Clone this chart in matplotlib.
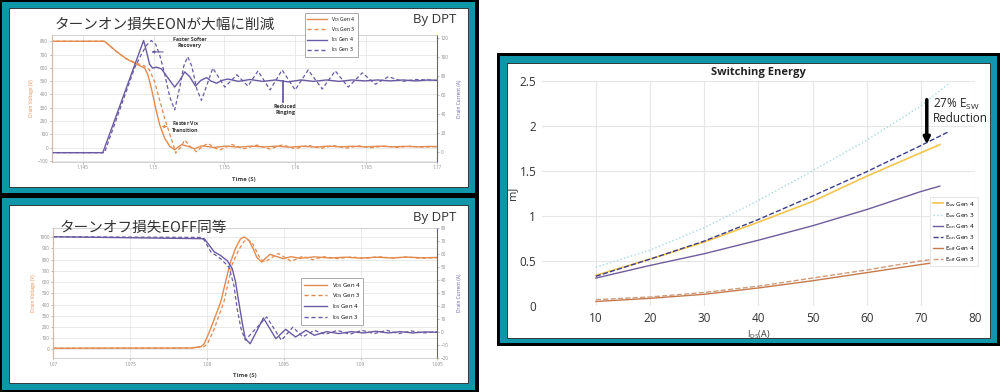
import matplotlib
matplotlib.use("Agg")
import matplotlib.pyplot as plt
from matplotlib.patches import Rectangle
from matplotlib.lines import Line2D
from matplotlib.ticker import FixedLocator, FuncFormatter

W, H = 1000, 392

# ---- turn-on waveform (top left) ----
on_t_v4 = [1.1427, 1.14654, 1.14736, 1.14807, 1.14878, 1.14937, 1.14960, 1.14984, 1.15015,
           1.15043, 1.15078, 1.15114, 1.15149, 1.15197, 1.15243, 1.15290, 1.15340, 1.15425,
           1.1551, 1.1560, 1.1569, 1.1578, 1.1587, 1.1596, 1.1605, 1.1614, 1.1623, 1.1632,
           1.1641, 1.1650, 1.1659, 1.1668, 1.1677, 1.1686, 1.1695, 1.1701]
on_v_g4 = [800, 800, 725, 669, 629, 599, 549, 449, 298,
           173, 73, 11, -15, 23, 11, -8, 14, 2,
           12, 4, 12, 6, 12, 4, 11, 5, 12, 7,
           11, 6, 12, 7, 10, 7, 10, 8]
on_t_v3 = [1.1427, 1.14654, 1.14736, 1.14807, 1.14878, 1.14937, 1.14972, 1.15008, 1.15043,
           1.15078, 1.15114, 1.15142, 1.15156, 1.15192, 1.15220, 1.15255, 1.15303, 1.15340,
           1.15383, 1.15425, 1.15468, 1.15553, 1.1564, 1.1573, 1.1582, 1.1591, 1.1600, 1.1609,
           1.1618, 1.1627, 1.1636, 1.1645, 1.1654, 1.1663, 1.1672, 1.1681, 1.1690, 1.1701]
on_v_g3 = [800, 800, 725, 669, 636, 614, 584, 494, 358,
           223, 103, 13, -40, 5, 58, 13, -30, 5,
           33, 2, -17, 24, -8, 20, -10, 22, -8, 18,
           -5, 16, -3, 14, 0, 13, 2, 12, 4, 9]
on_t_i4 = [1.1427, 1.14642, 1.14930, 1.14951, 1.14972, 1.14993, 1.15022, 1.15057, 1.15100,
           1.15149, 1.15185, 1.15220, 1.15255, 1.15296, 1.15333, 1.15374, 1.15404, 1.15444,
           1.15482, 1.15524, 1.1560, 1.1568, 1.1577, 1.1586, 1.1595, 1.1604, 1.1613, 1.1622,
           1.1631, 1.1640, 1.1649, 1.1658, 1.1667, 1.1676, 1.1685, 1.1694, 1.1701]
on_i_g4 = [-1, -1, 117, 105, 92, 88, 89, 87, 78,
           68, 75, 84, 79, 69, 75, 78, 74.5, 72,
           75, 76.5, 74, 76, 74, 75.5, 73.5, 75.5, 74, 75.5,
           74, 75.5, 74.5, 75.5, 74.5, 75.5, 74.5, 75.5, 75]
on_t_i3 = [1.1427, 1.14654, 1.14866, 1.14916, 1.14951, 1.14984, 1.15015, 1.15043, 1.15078,
           1.15114, 1.15149, 1.15185, 1.15213, 1.15241, 1.15270, 1.15305, 1.15338, 1.15376,
           1.15418, 1.15503, 1.15588, 1.15666, 1.15737, 1.15822, 1.15907, 1.15999, 1.16091,
           1.16190, 1.16282, 1.16374, 1.16473, 1.16565, 1.16657, 1.16756, 1.16849, 1.1701]
on_i_g3 = [-1, -1, 88, 103, 112, 117, 113, 102, 82,
           58, 44, 68, 90, 100, 90, 66, 54, 70,
           88, 68, 81, 69, 85, 65, 86, 65, 86,
           66, 85, 68, 83, 71, 79, 74, 76, 75]
on_xticks = [1.145, 1.15, 1.155, 1.16, 1.165, 1.17]
on_vticks = [-100, 0, 100, 200, 300, 400, 500, 600, 700, 800]
on_iticks = [0, 20, 40, 60, 80, 100, 120]

# ---- turn-off waveform (bottom left) ----
off_t_v4 = [1.07, 1.07897, 1.07962, 1.07983, 1.08026, 1.08090, 1.08150, 1.08186, 1.08218,
            1.08242, 1.08272, 1.08304, 1.08325, 1.08357, 1.08410, 1.08496, 1.08549, 1.08603,
            1.0870, 1.0880, 1.0890, 1.0900, 1.0910, 1.0920, 1.0930, 1.0940, 1.0950]
off_v_g4 = [10, 12, 25, 50, 190, 422, 764, 900, 985,
            1003, 975, 890, 820, 779, 848, 809, 827, 812,
            825, 815, 822, 814, 822, 816, 823, 817, 820]
off_t_v3 = [1.07, 1.07897, 1.07983, 1.08004, 1.08047, 1.08112, 1.08165, 1.08208, 1.08240,
            1.08261, 1.08293, 1.08325, 1.08346, 1.08378, 1.08464, 1.08549, 1.08624, 1.08688,
            1.0876, 1.0885, 1.0894, 1.0903, 1.0912, 1.0921, 1.0930, 1.0939, 1.0950]
off_v_g3 = [10, 10, 25, 50, 180, 430, 760, 890, 960,
            982, 955, 870, 810, 779, 855, 786, 830, 800,
            826, 810, 824, 812, 826, 814, 824, 812, 818]
off_t_i4 = [1.07, 1.07983, 1.08015, 1.08047, 1.08090, 1.08133, 1.08165, 1.08186, 1.08208,
            1.08229, 1.08250, 1.08282, 1.08368, 1.08449, 1.08513, 1.08577, 1.08645, 1.08699,
            1.0878, 1.0886, 1.0894, 1.0902, 1.0910, 1.0918, 1.0926, 1.0934, 1.0942, 1.0950]
off_i_g4 = [73.5, 72, 67, 62, 59, 55, 49, 39, 23,
            8, -5, -8.8, 11, -4.9, 2.3, -3.6, 1.5, -2.3,
            0.5, -1, 0.5, -0.5, 0.8, -0.5, 0.5, -0.5, 0.3, 0]
off_t_i3 = [1.07, 1.07962, 1.07983, 1.08026, 1.08090, 1.08144, 1.08176, 1.08197, 1.08222,
            1.08250, 1.08389, 1.08485, 1.08560, 1.08624, 1.08699, 1.0877, 1.0885, 1.0893,
            1.0901, 1.0909, 1.0917, 1.0925, 1.0933, 1.0941, 1.0950]
off_i_g3 = [73.5, 73, 70.8, 61.8, 56.6, 50, 36, 18, 2.8,
            -6, 11.8, -6.2, 4, -3.6, 1.5, -1.5, 1.5, -1.5,
            1.5, -1, 1.5, -1, 1, -0.5, 0.5]
off_xticks = [1.07, 1.075, 1.08, 1.085, 1.09, 1.095]
off_vticks = [0, 100, 200, 300, 400, 500, 600, 700, 800, 900, 1000]
off_iticks = [-20, -10, 0, 10, 20, 30, 40, 50, 60, 70, 80]

# ---- switching energy (right) ----
ids_g4 = [10, 20, 30, 40, 50, 60, 70, 73.5]
ids_g3 = [10, 20, 30, 40, 50, 60, 70, 75]
esw_g4 = [0.34, 0.52, 0.71, 0.93, 1.16, 1.44, 1.70, 1.79]
esw_g3 = [0.43, 0.62, 0.87, 1.17, 1.50, 1.84, 2.22, 2.46]
eon_g4 = [0.31, 0.45, 0.58, 0.73, 0.89, 1.07, 1.27, 1.33]
eon_g3 = [0.33, 0.52, 0.72, 0.96, 1.22, 1.49, 1.78, 1.93]
eoff_g4 = [0.05, 0.085, 0.13, 0.20, 0.28, 0.37, 0.46, 0.49]
eoff_g3 = [0.07, 0.10, 0.15, 0.22, 0.31, 0.40, 0.50, 0.54]
e_xticks = [10, 20, 30, 40, 50, 60, 70, 80]
e_yticks = [0, 0.5, 1, 1.5, 2, 2.5]

ORANGE = '#e38b4f'
PURPLE = '#6a5aa3'
TEAL = '#0f97a9'
JP = ['Noto Sans CJK JP', 'DejaVu Sans']


def rect(x0, y0, x1, y1):
    return [x0 / W, 1 - y1 / H, (x1 - x0) / W, (y1 - y0) / H]


def box(fig, x0, y0, x1, y1, color, ec='none', lw=0):
    fig.add_artist(Rectangle((x0 / W, 1 - y1 / H), (x1 - x0) / W, (y1 - y0) / H,
                             transform=fig.transFigure, facecolor=color,
                             edgecolor=ec, linewidth=lw, zorder=-5))


def fmt(v, p):
    return f'{v:g}'


def wave_axes(fig, pos, xlim, vlim, ilim, xt, vt, it):
    ax = fig.add_axes(pos)
    axr = ax.twinx()
    ax.set_xlim(*xlim)
    ax.set_ylim(*vlim)
    axr.set_ylim(*ilim)
    ax.xaxis.set_major_locator(FixedLocator(xt))
    ax.xaxis.set_major_formatter(FuncFormatter(fmt))
    ax.yaxis.set_major_locator(FixedLocator(vt))
    axr.yaxis.set_major_locator(FixedLocator(it))
    ax.grid(color='#e2e2e2', lw=0.5)
    for a in (ax, axr):
        a.tick_params(labelsize=3.3, length=1.5, width=0.4, pad=1, colors='#888')
        for s in a.spines.values():
            s.set_linewidth(0.5)
            s.set_color('#cccccc')
    ax.spines['left'].set_color(ORANGE)
    axr.spines['right'].set_color(PURPLE)
    ax.spines['left'].set_linewidth(0.8)
    axr.spines['right'].set_linewidth(0.8)
    ax.set_ylabel('Drain Voltage (V)', fontsize=3.5, color=ORANGE)
    axr.set_ylabel('Drain Current (A)', fontsize=3.5, color=PURPLE)
    ax.set_xlabel('Time (S)', fontsize=4.3, fontweight='bold', color='#444')
    ax.yaxis.set_label_coords(-0.045, 0.5)
    axr.yaxis.set_label_coords(1.052, 0.5)
    ax.xaxis.set_label_coords(0.5, -0.12)
    return ax, axr


def legend_handles():
    return [Line2D([], [], color=ORANGE, lw=1),
            Line2D([], [], color=ORANGE, lw=1, ls=(0, (3, 2))),
            Line2D([], [], color=PURPLE, lw=1),
            Line2D([], [], color=PURPLE, lw=1, ls=(0, (3, 2)))]


LEG_LABELS = ['V$_{DS}$ Gen 4', 'V$_{DS}$ Gen 3', 'I$_{DS}$ Gen 4', 'I$_{DS}$ Gen 3']


def main():
    plt.rcParams['font.family'] = ['Open Sans', 'DejaVu Sans']
    plt.rcParams['mathtext.default'] = 'regular'
    fig = plt.figure(figsize=(W / 100, H / 100), dpi=100)
    fig.patch.set_facecolor('white')

    # frames
    box(fig, 0, 0, 479, 392, 'black')
    box(fig, 1.5, 1.5, 474.5, 193, TEAL)
    box(fig, 8.5, 8, 468, 187, 'white', ec='#222', lw=0.6)
    box(fig, 1.5, 197.5, 474.5, 390, TEAL)
    box(fig, 8.5, 205, 468, 383, 'white', ec='#222', lw=0.6)
    box(fig, 497, 53, 1000, 346, 'black')
    box(fig, 499.5, 55.5, 997, 343, TEAL)
    box(fig, 507.5, 62.5, 990, 338, 'white', ec='#222', lw=0.6)

    # ---- turn-on ----
    ax1, ax1r = wave_axes(fig, rect(51.5, 35, 437, 161.7), (1.1428, 1.1700),
                          (-105, 847), (-10.5, 122.8), on_xticks, on_vticks, on_iticks)
    ax1.plot(on_t_v4, on_v_g4, color=ORANGE, lw=1)
    ax1.plot(on_t_v3, on_v_g3, color=ORANGE, lw=0.9, ls=(0, (3, 2)))
    ax1r.plot(on_t_i4, on_i_g4, color=PURPLE, lw=1)
    ax1r.plot(on_t_i3, on_i_g3, color=PURPLE, lw=0.9, ls=(0, (3, 2)))
    ax1r.text(1.15255, 115, 'Faster Softer\nRecovery', fontsize=3.8, fontweight='bold',
              color='#333', ha='center', va='center')
    ax1r.annotate('', xy=(1.14965, 105), xytext=(1.15087, 105),
                  arrowprops=dict(arrowstyle='-|>', color=PURPLE, lw=0.8, mutation_scale=4))
    ax1.text(1.15128, 163, 'Faster V$_{DS}$\nTransition', fontsize=3.8, fontweight='bold',
             color='#333', ha='left', va='center')
    ax1.annotate('', xy=(1.15036, 159), xytext=(1.15115, 159),
                 arrowprops=dict(arrowstyle='-|>', color=ORANGE, lw=0.8, mutation_scale=4))
    ax1r.plot([1.15912, 1.15912], [74.4, 52.6], color=PURPLE, lw=1.3)
    ax1r.text(1.15930, 44, 'Reduced\nRinging', fontsize=3.8, fontweight='bold',
              color='#333', ha='center', va='center')
    leg = ax1r.legend(legend_handles(), LEG_LABELS, loc='upper left',
                      bbox_to_anchor=(302 / W, 1 - 10 / H), bbox_transform=fig.transFigure,
                      fontsize=3.6, handlelength=4, labelspacing=0.25, borderpad=0.5,
                      fancybox=False, framealpha=1, edgecolor='#888')
    leg.get_frame().set_linewidth(0.5)
    fig.text(55 / W, 1 - 25 / H, 'ターンオン損失EONが大幅に削減', fontsize=10.5,
             family=JP, color='#333', va='center')
    fig.text(413 / W, 1 - 19 / H, 'By DPT', fontsize=9.5, color='#333', va='center')

    # ---- turn-off ----
    ax2, ax2r = wave_axes(fig, rect(53.3, 228.3, 437.3, 358.3), (1.07, 1.095),
                          (-80, 1080), (-20, 80), off_xticks, off_vticks, off_iticks)
    ax2.plot(off_t_v4, off_v_g4, color=ORANGE, lw=1)
    ax2.plot(off_t_v3, off_v_g3, color=ORANGE, lw=0.9, ls=(0, (3, 2)))
    ax2r.plot(off_t_i4, off_i_g4, color=PURPLE, lw=1)
    ax2r.plot(off_t_i3, off_i_g3, color=PURPLE, lw=0.9, ls=(0, (3, 2)))
    ax2.xaxis.set_label_coords(0.5, -0.115)
    leg = ax2r.legend(legend_handles(), LEG_LABELS, loc='upper left',
                      bbox_to_anchor=(298 / W, 1 - 275 / H), bbox_transform=fig.transFigure,
                      fontsize=4.2, handlelength=4, labelspacing=0.3, borderpad=0.5,
                      fancybox=False, framealpha=1, edgecolor='#888')
    leg.get_frame().set_linewidth(0.5)
    fig.text(60 / W, 1 - 228 / H, 'ターンオフ損失EOFF同等', fontsize=10.5,
             family=JP, color='#333', va='center')
    fig.text(413 / W, 1 - 218 / H, 'By DPT', fontsize=9.5, color='#333', va='center')

    # ---- switching energy ----
    ax3 = fig.add_axes(rect(541.7, 80.7, 975, 306))
    ax3.plot(ids_g4, esw_g4, color='#f3c54d', lw=1.2, label='E$_{sw}$ Gen 4')
    ax3.plot(ids_g3, esw_g3, color='#a6d9dd', lw=1.0, ls=':', label='E$_{sw}$ Gen 3')
    ax3.plot(ids_g4, eon_g4, color='#6f5c9d', lw=1.0, label='E$_{on}$ Gen 4')
    ax3.plot(ids_g3, eon_g3, color='#3c3d8c', lw=1.0, ls='--', label='E$_{on}$ Gen 3')
    ax3.plot(ids_g4, eoff_g4, color='#c47a4c', lw=1.0, label='E$_{off}$ Gen 4')
    ax3.plot(ids_g3, eoff_g3, color='#d19a7a', lw=1.0, ls='--', label='E$_{off}$ Gen 3')
    ax3.set_xlim(0, 80)
    ax3.set_ylim(0, 2.5)
    ax3.xaxis.set_major_locator(FixedLocator(e_xticks))
    ax3.yaxis.set_major_locator(FixedLocator(e_yticks))
    ax3.yaxis.set_major_formatter(FuncFormatter(fmt))
    ax3.grid(color='#e6e6e6', lw=0.8)
    ax3.set_axisbelow(True)
    for s in ax3.spines.values():
        s.set_visible(False)
    ax3.tick_params(labelsize=8.5, length=0, pad=4, colors='#333')
    ax3.set_title('Switching Energy', fontsize=8, fontweight='bold', color='#222', pad=4)
    ax3.set_ylabel('mJ', fontsize=8, color='#333')
    ax3.yaxis.set_label_coords(-0.055, 0.5)
    ax3.set_xlabel('I$_{DS}$(A)', fontsize=6.5, color='#333')
    ax3.xaxis.set_label_coords(0.5, -0.1)
    leg = ax3.legend(loc='upper left', bbox_to_anchor=(927 / W, 1 - 194 / H),
                     bbox_transform=fig.transFigure, fontsize=4.5, handlelength=1.6,
                     labelspacing=0.35, borderpad=0.4, handletextpad=0.4,
                     fancybox=False, framealpha=1, edgecolor='#ddd')
    leg.get_frame().set_linewidth(0.5)
    ax3.annotate('', xy=(71.1, 1.765), xytext=(71.1, 2.32),
                 arrowprops=dict(arrowstyle='-|>', color='black', lw=2.5, mutation_scale=9))
    ax3.text(72.3, 2.16, '27% E$_{SW}$\nReduction', fontsize=8.5, color='#222',
             ha='left', va='center', linespacing=1.0)

    fig.savefig('out.png', dpi=100)


if __name__ == "__main__":
    main()
